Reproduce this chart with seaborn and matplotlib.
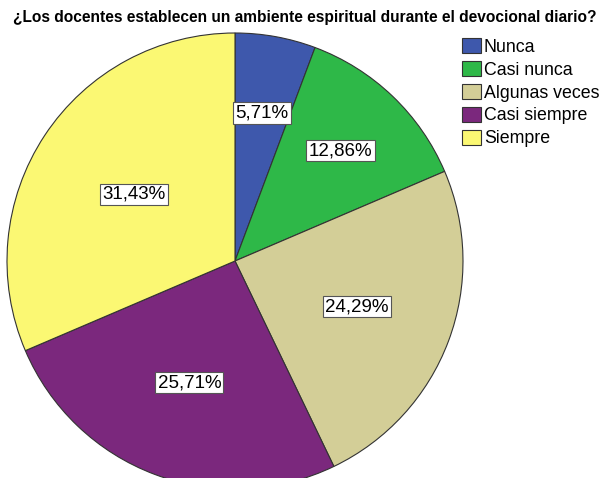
import numpy as np
import matplotlib
matplotlib.use('Agg')
import matplotlib.pyplot as plt
import seaborn as sns

categories = ['Nunca', 'Casi nunca', 'Algunas veces', 'Casi siempre', 'Siempre']
percentages = [5.71, 12.86, 24.29, 25.71, 31.43]
colors = ['#3E58AC', '#2EB848', '#D3CE97', '#7B287D', '#FBF873']
title = '¿Los docentes establecen un ambiente espiritual durante el devocional diario?'
# label distance from centre, as fraction of radius (SPSS places them unevenly)
label_dist = [0.66, 0.67, 0.57, 0.57, 0.53]

sns.set_theme(style='white')
plt.rcParams['font.family'] = ['Liberation Sans', 'DejaVu Sans']
plt.rcParams['text.color'] = 'black'

fig = plt.figure(figsize=(6.08, 4.78), dpi=100)
ax = fig.add_axes([7 / 608, (478 - 261 - 228) / 478, 456 / 608, 456 / 478])

palette = sns.color_palette(colors)
wedges, _ = ax.pie(percentages, colors=palette, startangle=90, counterclock=False,
                   radius=1, wedgeprops=dict(edgecolor='#333333', linewidth=0.8))
ax.set_xlim(-1, 1)
ax.set_ylim(-1, 1)
ax.set_aspect('equal')
ax.axis('off')

for w, p, d in zip(wedges, percentages, label_dist):
    ang = np.deg2rad((w.theta1 + w.theta2) / 2)
    ax.text(d * np.cos(ang), d * np.sin(ang), f'{p:.2f}%'.replace('.', ','),
            ha='center', va='center', fontsize=13.5, color='black',
            bbox=dict(boxstyle='square,pad=0.12', facecolor='white',
                      edgecolor='#555555', linewidth=0.8))

fig.text(0.502, 0.964, title, ha='center', va='center', fontsize=11.2,
         fontweight='bold', color='black')

leg = fig.legend(wedges, categories, loc='upper left', bbox_to_anchor=(450 / 608, 1 - 26 / 478),
                 frameon=False, fontsize=12.8, handlelength=1.05, handleheight=0.9,
                 handletextpad=0.15, labelspacing=0.3, borderpad=0.2, labelcolor='black')

fig.savefig('out.png', dpi=100)
